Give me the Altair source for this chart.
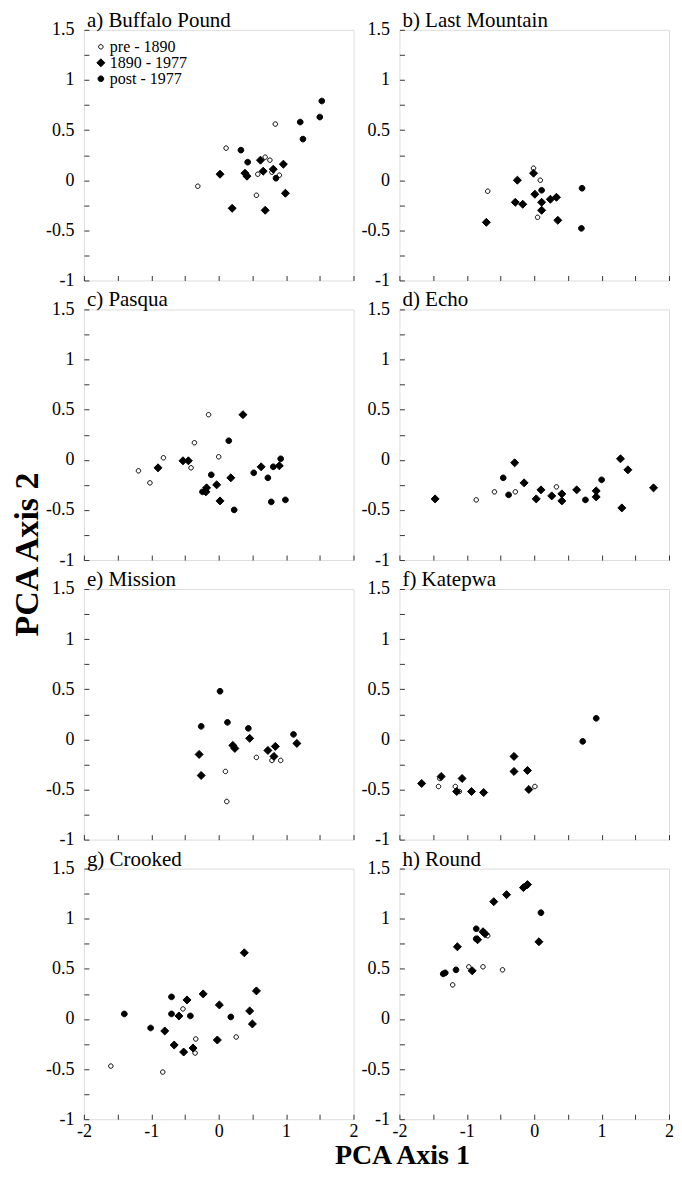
import altair as alt
import pandas as pd

FONT = "Liberation Serif, Times New Roman, Times, serif"
PERIODS = ["pre - 1890", "1890 - 1977", "post - 1977"]
LAKES = ["a) Buffalo Pound", "b) Last Mountain", "c) Pasqua", "d) Echo",
         "e) Mission", "f) Katepwa", "g) Crooked", "h) Round"]
X_TICKS = [-2, -1.5, -1, -0.5, 0, 0.5, 1, 1.5, 2]
Y_TICKS = [-1, -0.75, -0.5, -0.25, 0, 0.25, 0.5, 0.75, 1, 1.25, 1.5]

# a) Buffalo Pound
a_pre_x = [-0.31, 0.11, 0.84, 0.69, 0.76, 0.58, 0.79, 0.90, 0.56]
a_pre_y = [-0.06, 0.32, 0.56, 0.23, 0.20, 0.06, 0.08, 0.05, -0.15]
a_mid_x = [0.02, 0.39, 0.42, 0.20, 0.62, 0.66, 0.81, 0.96, 0.99, 0.69]
a_mid_y = [0.06, 0.07, 0.04, -0.28, 0.20, 0.09, 0.11, 0.16, -0.13, -0.30]
a_post_x = [0.33, 0.43, 0.85, 1.21, 1.25, 1.50, 1.53]
a_post_y = [0.30, 0.18, 0.02, 0.58, 0.41, 0.63, 0.79]

# b) Last Mountain
b_pre_x = [-0.69, -0.01, 0.09, 0.05]
b_pre_y = [-0.11, 0.12, 0.00, -0.37]
b_mid_x = [-0.71, -0.25, -0.01, -0.28, -0.17, 0.01, 0.11, 0.11, 0.24, 0.33, 0.35]
b_mid_y = [-0.42, 0.00, 0.07, -0.22, -0.24, -0.14, -0.22, -0.30, -0.19, -0.17, -0.40]
b_post_x = [0.11, 0.71, 0.70]
b_post_y = [-0.10, -0.08, -0.48]

# c) Pasqua
c_pre_x = [-1.19, -1.02, -0.82, -0.41, -0.36, -0.15, 0.00]
c_pre_y = [-0.11, -0.23, 0.02, -0.08, 0.17, 0.45, 0.03]
c_mid_x = [-0.90, -0.53, -0.45, -0.18, -0.19, -0.03, 0.02, 0.18, 0.36, 0.63, 0.90]
c_mid_y = [-0.08, -0.01, -0.01, -0.28, -0.32, -0.25, -0.41, -0.18, 0.45, -0.07, -0.06]
c_post_x = [-0.24, -0.11, 0.15, 0.23, 0.52, 0.73, 0.81, 0.78, 0.92, 0.99]
c_post_y = [-0.32, -0.15, 0.19, -0.50, -0.13, -0.18, -0.07, -0.42, 0.01, -0.40]

# d) Echo
d_pre_x = [-0.86, -0.59, -0.28, 0.33]
d_pre_y = [-0.40, -0.32, -0.32, -0.27]
d_mid_x = [-1.47, -0.29, -0.15, 0.03, 0.10, 0.26, 0.41, 0.41, 0.63, 0.92, 0.92, 1.28, 1.39, 1.30, 1.77]
d_mid_y = [-0.39, -0.03, -0.23, -0.39, -0.30, -0.36, -0.34, -0.41, -0.30, -0.31, -0.37, 0.01, -0.10, -0.48, -0.28]
d_post_x = [-0.46, -0.38, 0.76, 1.00]
d_post_y = [-0.18, -0.35, -0.40, -0.20]

# e) Mission
e_pre_x = [0.10, 0.12, 0.56, 0.79, 0.92]
e_pre_y = [-0.32, -0.62, -0.18, -0.21, -0.21]
e_mid_x = [-0.29, -0.26, 0.21, 0.24, 0.46, 0.73, 0.84, 0.82, 1.16]
e_mid_y = [-0.15, -0.36, -0.06, -0.09, 0.01, -0.11, -0.07, -0.17, -0.04]
e_post_x = [0.02, -0.26, 0.13, 0.44, 1.11]
e_post_y = [0.48, 0.13, 0.17, 0.11, 0.05]

# f) Katepwa
f_pre_x = [-1.42, -1.40, -1.17, -1.11, 0.01]
f_pre_y = [-0.47, -0.39, -0.47, -0.52, -0.47]
f_mid_x = [-1.67, -1.38, -1.15, -1.07, -0.93, -0.75, -0.30, -0.30, -0.10, -0.08]
f_mid_y = [-0.44, -0.37, -0.52, -0.39, -0.52, -0.53, -0.17, -0.32, -0.31, -0.50]
f_post_x = [0.72, 0.92]
f_post_y = [-0.02, 0.21]

# g) Crooked
g_pre_x = [-1.60, -0.83, -0.53, -0.34, -0.35, 0.26]
g_pre_y = [-0.47, -0.53, 0.10, -0.20, -0.34, -0.18]
g_mid_x = [-0.80, -0.66, -0.59, -0.47, -0.52, -0.38, -0.23, -0.02, 0.01, 0.38, 0.46, 0.50, 0.56]
g_mid_y = [-0.12, -0.26, 0.03, 0.19, -0.33, -0.29, 0.25, -0.21, 0.14, 0.66, 0.08, -0.05, 0.28]
g_post_x = [-1.40, -1.01, -0.70, -0.70, -0.42, 0.18]
g_post_y = [0.05, -0.09, 0.22, 0.05, 0.03, 0.02]

# h) Round
h_pre_x = [-1.21, -0.97, -0.76, -0.69, -0.47]
h_pre_y = [0.34, 0.52, 0.52, 0.83, 0.49]
h_mid_x = [-1.14, -0.92, -0.84, -0.76, -0.73, -0.60, -0.41, -0.16, -0.10, 0.07]
h_mid_y = [0.72, 0.48, 0.79, 0.87, 0.85, 1.17, 1.24, 1.31, 1.34, 0.77]
h_post_x = [-1.35, -1.32, -1.16, -0.86, -0.86, 0.10]
h_post_y = [0.45, 0.46, 0.49, 0.90, 0.80, 1.06]

SERIES = {
    LAKES[0]: [(a_pre_x, a_pre_y), (a_mid_x, a_mid_y), (a_post_x, a_post_y)],
    LAKES[1]: [(b_pre_x, b_pre_y), (b_mid_x, b_mid_y), (b_post_x, b_post_y)],
    LAKES[2]: [(c_pre_x, c_pre_y), (c_mid_x, c_mid_y), (c_post_x, c_post_y)],
    LAKES[3]: [(d_pre_x, d_pre_y), (d_mid_x, d_mid_y), (d_post_x, d_post_y)],
    LAKES[4]: [(e_pre_x, e_pre_y), (e_mid_x, e_mid_y), (e_post_x, e_post_y)],
    LAKES[5]: [(f_pre_x, f_pre_y), (f_mid_x, f_mid_y), (f_post_x, f_post_y)],
    LAKES[6]: [(g_pre_x, g_pre_y), (g_mid_x, g_mid_y), (g_post_x, g_post_y)],
    LAKES[7]: [(h_pre_x, h_pre_y), (h_mid_x, h_mid_y), (h_post_x, h_post_y)],
}

rows = []
for lake, groups in SERIES.items():
    for period, (xs, ys) in zip(PERIODS, groups):
        for x, y in zip(xs, ys):
            rows.append({"lake": lake, "period": period, "x": x, "y": y})
df = pd.DataFrame(rows)

# marker shapes: small open circle, large diamond, medium filled circle
SHAPES = [
    "M0.45,0A0.45,0.45,0,1,1,-0.45,0A0.45,0.45,0,1,1,0.45,0Z",
    "M-0.8,0L0,-0.8L0.8,0L0,0.8Z",
    "M0.57,0A0.57,0.57,0,1,1,-0.57,0A0.57,0.57,0,1,1,0.57,0Z",
]
FILLS = ["white", "black", "black"]

W, H = 270, 251


def panel(lake, bottom, with_legend):
    sub = df[df["lake"] == lake]
    if with_legend:
        leg = alt.Legend(title=None, orient="top-left", offset=9, padding=0,
                         labelFont=FONT, labelFontSize=16, labelColor="black",
                         labelOffset=1, rowPadding=0, symbolSize=100,
                         symbolStrokeColor="black", symbolStrokeWidth=1)
    else:
        leg = None
    x_axis = alt.Axis(values=X_TICKS, title=None, grid=False, domain=False,
                      offset=-5, tickSize=5, tickColor="#333", labels=bottom,
                      labelExpr="datum.value % 1 == 0 ? datum.value + '' : ''",
                      labelFont=FONT, labelFontSize=18, labelColor="black",
                      labelPadding=3, labelFlush=False, labelOverlap=False)
    y_axis = alt.Axis(values=Y_TICKS, title=None, grid=False, domain=False,
                      offset=-5, tickSize=5, tickColor="#333",
                      labelExpr="datum.value % 0.5 == 0 ? datum.value + '' : ''",
                      labelFont=FONT, labelFontSize=18, labelColor="black",
                      labelPadding=10, labelFlush=False, labelOverlap=False)
    return alt.Chart(sub).mark_point(
        filled=True, strokeWidth=1, opacity=1, size=100
    ).encode(
        x=alt.X("x:Q", scale=alt.Scale(domain=[-2, 2], nice=False, zero=False), axis=x_axis),
        y=alt.Y("y:Q", scale=alt.Scale(domain=[-1, 1.5], nice=False, zero=False), axis=y_axis),
        shape=alt.Shape("period:N", scale=alt.Scale(domain=PERIODS, range=SHAPES), legend=leg),
        fill=alt.Fill("period:N", scale=alt.Scale(domain=PERIODS, range=FILLS), legend=leg),
        stroke=alt.Stroke("period:N", scale=alt.Scale(domain=PERIODS, range=["black", "black", "black"]), legend=leg),
    ).properties(
        width=W, height=H,
        title=alt.TitleParams(lake, anchor="start", frame="group", font=FONT, fontSize=21,
                              fontWeight="normal", color="black", offset=-10, dx=3),
    )


panels = [panel(lake, i >= 6, i == 0) for i, lake in enumerate(LAKES)]

grid = alt.concat(
    *panels, columns=2, spacing={"row": 29, "column": 46}, bounds="flush",
    title=alt.TitleParams("PCA Axis 1", orient="bottom", anchor="middle", font=FONT,
                          fontSize=28, fontWeight="bold", color="black", offset=1, dx=43),
).resolve_scale(shape="independent", fill="independent", stroke="independent")

chart = alt.vconcat(
    grid,
    title=alt.TitleParams("PCA Axis 2", orient="left", anchor="middle", font=FONT,
                          fontSize=34, fontWeight="bold", color="black", offset=0, dx=35),
    padding={"left": 3, "top": 0, "right": 0, "bottom": 0},
).configure_view(stroke="#222", strokeWidth=1.2).configure(background="white")

chart.save("out.html", embed_options={"renderer": "svg", "actions": False})
